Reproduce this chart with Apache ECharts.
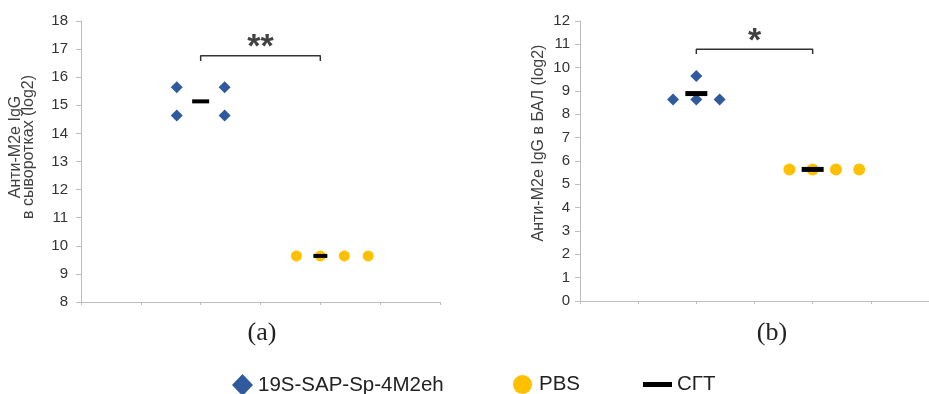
<!DOCTYPE html>
<html>
<head>
<meta charset="utf-8">
<script src="https://cdn.jsdelivr.net/npm/echarts@6/dist/echarts.min.js"></script>
<style>
  html, body { margin: 0; padding: 0; background: #fff; }
  #view { width: 929px; height: 394px; }
</style>
</head>
<body>
<div id="view"></div>
<script>
var myChart = echarts.init(document.getElementById('view'));

// group names (legend)
var groups = ['19S-SAP-Sp-4M2eh', 'PBS', 'СГТ'];

// (a) serum IgG, log2
var serumVaccX = [1.6, 2.4, 1.6, 2.4];
var serumVaccY = [15.64, 15.64, 14.64, 14.64];
var serumPbsX = [3.6, 4.0, 4.4, 4.8];
var serumPbsY = [9.64, 9.64, 9.64, 9.64];
var serumMeanX = [2, 4];
var serumMeanY = [15.14, 9.64];
var serumBracket = [[2, 16.58], [2, 16.76], [4, 16.76], [4, 16.58]];
var serumStars = '**';

// (b) BAL IgG, log2
var balVaccX = [2.0, 1.6, 2.0, 2.4];
var balVaccY = [9.64, 8.64, 8.64, 8.64];
var balPbsX = [3.6, 4.0, 4.4, 4.8];
var balPbsY = [5.64, 5.64, 5.64, 5.64];
var balMeanX = [2, 4];
var balMeanY = [8.89, 5.64];
var balBracket = [[2, 10.59], [2, 10.79], [4, 10.79], [4, 10.59]];
var balStars = '*';

var blue = '#2f5a9e', gold = '#ffc000', dark = '#000000';
var font = '"Liberation Sans", Arial, sans-serif';

function zip(xs, ys) {
    var out = [];
    for (var i = 0; i < xs.length; i++) out.push([xs[i], ys[i]]);
    return out;
}

function xAxisFor(idx) {
    return {
        gridIndex: idx, type: 'value', min: 0, max: 6, interval: 1,
        axisLine: { lineStyle: { color: '#bdbdbd', width: 1 } },
        axisTick: { show: true, length: 3, lineStyle: { color: '#bdbdbd' } },
        axisLabel: { show: false },
        splitLine: { show: false }
    };
}

function yAxisFor(idx, min, max, margin) {
    return {
        gridIndex: idx, type: 'value', min: min, max: max, interval: 1,
        axisLine: { show: true, lineStyle: { color: '#bdbdbd', width: 1 } },
        axisTick: { show: true, length: 5, lineStyle: { color: '#bdbdbd' } },
        axisLabel: { color: '#333', fontSize: 15, fontFamily: font, margin: margin },
        splitLine: { show: false }
    };
}

function panelSeries(idx, vacc, pbs, mean, meanSize, bracket, stars, markSize) {
    return [
        {
            name: groups[0], type: 'scatter', xAxisIndex: idx, yAxisIndex: idx,
            symbol: 'diamond', symbolSize: markSize[0],
            itemStyle: { color: blue, opacity: 1 }, data: vacc, z: 2
        },
        {
            name: groups[1], type: 'scatter', xAxisIndex: idx, yAxisIndex: idx,
            symbol: 'circle', symbolSize: markSize[1],
            itemStyle: { color: gold, opacity: 1 }, data: pbs, z: 2
        },
        {
            name: groups[2], type: 'scatter', xAxisIndex: idx, yAxisIndex: idx,
            symbol: 'rect',
            symbolSize: function (v, p) { return meanSize[p.dataIndex]; },
            itemStyle: { color: dark, opacity: 1 }, data: mean, z: 4
        },
        {
            type: 'line', xAxisIndex: idx, yAxisIndex: idx,
            data: bracket, symbol: 'none',
            lineStyle: { color: '#333', width: 1.5 }, silent: true, z: 3
        },
        {
            type: 'scatter', xAxisIndex: idx, yAxisIndex: idx,
            data: [[(bracket[0][0] + bracket[2][0]) / 2, bracket[1][1]]],
            symbolSize: 0, silent: true,
            label: {
                show: true, position: 'top', distance: -9, formatter: stars,
                fontSize: 34, fontWeight: 'bold', color: '#111', fontFamily: font
            }
        }
    ];
}

var seriesd = []
    .concat(panelSeries(0, zip(serumVaccX, serumVaccY), zip(serumPbsX, serumPbsY),
        zip(serumMeanX, serumMeanY), [[17, 4], [14, 4]], serumBracket, serumStars, [12, 11]))
    .concat(panelSeries(1, zip(balVaccX, balVaccY), zip(balPbsX, balPbsY),
        zip(balMeanX, balMeanY), [[22, 5], [22, 5]], balBracket, balStars, [12, 12]));

var legendText = { fontSize: 20.5, color: '#222', fontFamily: font };

var option = {
    animation: false,
    backgroundColor: '#fff',
    grid: [
        { left: 81, top: 21, width: 359, height: 281 },
        { left: 580, top: 21, width: 360, height: 280 }
    ],
    xAxis: [xAxisFor(0), xAxisFor(1)],
    yAxis: [yAxisFor(0, 8, 18, 13), yAxisFor(1, 0, 12, 10)],
    legend: [
        {
            data: [{ name: groups[0], icon: 'diamond' }], selectedMode: false,
            left: 227, top: 369, itemWidth: 21, itemHeight: 22, textStyle: legendText
        },
        {
            data: [{ name: groups[1], icon: 'circle' }], selectedMode: false,
            left: 508, top: 369, itemWidth: 23, itemHeight: 19, textStyle: legendText
        },
        {
            data: [{ name: groups[2], icon: 'rect' }], selectedMode: false,
            left: 638, top: 369, itemWidth: 29, itemHeight: 5, textStyle: legendText
        }
    ],
    graphic: [
        {
            type: 'text', x: 22, y: 147, rotation: Math.PI / 2,
            style: {
                text: 'Анти-M2e IgG\nв сыворотках (log2)', font: '16px ' + font,
                fill: '#404040', align: 'center', verticalAlign: 'middle', lineHeight: 13
            }
        },
        {
            type: 'text', x: 539, y: 143, rotation: Math.PI / 2,
            style: {
                text: 'Анти-M2e IgG в БАЛ (log2)', font: '16px ' + font,
                fill: '#404040', align: 'center', verticalAlign: 'middle'
            }
        },
        {
            type: 'text', x: 262, y: 333,
            style: {
                text: '(a)', font: '26px "Liberation Serif", "Times New Roman", serif',
                fill: '#222', align: 'center', verticalAlign: 'middle'
            }
        },
        {
            type: 'text', x: 772, y: 333,
            style: {
                text: '(b)', font: '26px "Liberation Serif", "Times New Roman", serif',
                fill: '#222', align: 'center', verticalAlign: 'middle'
            }
        }
    ],
    series: seriesd
};

myChart.setOption(option);
</script>
</body>
</html>
